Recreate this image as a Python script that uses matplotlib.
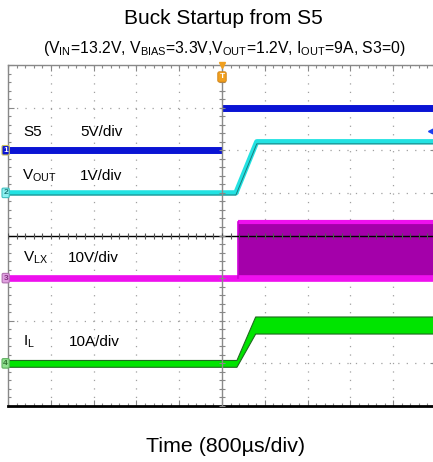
#plot.py
# Buck startup from S5 - scope capture redrawn with matplotlib
import numpy as np
import matplotlib
matplotlib.use('Agg')
import matplotlib.pyplot as plt

plt.rcParams['font.family'] = ['Liberation Sans', 'DejaVu Sans']
plt.rcParams['mathtext.fontset'] = 'custom'
plt.rcParams['mathtext.rm'] = 'Liberation Sans'
plt.rcParams['lines.scale_dashes'] = False

# ---- data (time in us, values in V / A) ----
time_per_div = 800.0
s5_t = [-4000, 0, 0, 4000]
s5_v = [0, 0, 5.0, 5.0]
vout_t = [-4000, 260, 650, 4000]
vout_v = [0, 0, 1.2, 1.2]
vlx_start = 300
vlx_vin = 13.2
il_t = [-4000, 270, 620, 4000]
il_hi = [0.8, 0.8, 11.0, 11.0]
il_lo = [-0.8, -0.8, 7.0, 7.0]
trig_level = 2.3  # S5 trigger level (V)

# volts (amps) per division
scale_s5, scale_vout, scale_vlx, scale_il = 5.0, 1.0, 10.0, 10.0

# ---- channel layout (offset in divisions from screen centre) ----
off_s5, off_vout, off_vlx, off_il = 2.0, 1.0, -1.0, -3.0

def to_div(v, scale, off):
    return np.asarray(v, dtype=float) / scale + off

W, H = 433, 462
fig = plt.figure(figsize=(W / 100, H / 100), dpi=100)
ax = fig.add_axes([8 / W, 56 / H, 428 / W, 341 / H])
ax.set_xlim(-5 * time_per_div, 5 * time_per_div)
ax.set_ylim(-4, 4)

# grid
ax.set_xticks(np.arange(-5, 6) * time_per_div)
ax.set_yticks(np.arange(-4, 5))
ax.set_xticks(np.arange(-25, 26) * time_per_div / 5, minor=True)
ax.set_yticks(np.arange(-20, 21) / 5, minor=True)
ax.set_xticklabels([])
ax.set_yticklabels([])
ax.tick_params(which='both', direction='in', top=True, right=True, color='#888888')
ax.tick_params(which='major', length=4, width=0.8)
ax.tick_params(which='minor', length=2.5, width=0.8)
ax.grid(True, which='major', color='#a0a0a0', lw=0.9, dashes=(0.9, 5.2))
ax.set_axisbelow(True)
for side in ['left', 'top', 'right']:
    ax.spines[side].set_color('#888888')
    ax.spines[side].set_linewidth(1.0)
ax.spines['bottom'].set_color('black')
ax.spines['bottom'].set_linewidth(2.0)

# ---- traces ----
# S5: a step, drawn as its flat runs (the edge is too fast to show)
s5_y = to_div(s5_v, scale_s5, off_s5)
for i in range(len(s5_t) - 1):
    if s5_t[i] != s5_t[i + 1]:
        ax.plot(s5_t[i:i + 2], s5_y[i:i + 2], color='#0a14d4', lw=5.0,
                solid_capstyle='butt', zorder=3)

# VOUT
ax.plot(vout_t, to_div(vout_v, scale_vout, off_vout), color='#22e2e2', lw=3.8,
        solid_capstyle='butt', zorder=3)
ax.plot(vout_t, to_div(vout_v, scale_vout, off_vout) - 0.05, color='#1d7a7a', lw=0.7,
        zorder=3)

# VLX (switch node)
lx_low = to_div(0, scale_vlx, off_vlx)
lx_high = to_div(vlx_vin, scale_vlx, off_vlx)
ax.fill_between([vlx_start, 4000], lx_low, lx_high, color='#a400aa', lw=0, zorder=2)
ax.plot([-4000, 4000], [lx_low, lx_low], color='#ee10ee', lw=4.8,
        solid_capstyle='butt', zorder=3)
ax.plot([vlx_start, 4000], [lx_high, lx_high], color='#ee10ee', lw=3.0,
        solid_capstyle='butt', zorder=3)
ax.plot([vlx_start, vlx_start], [lx_low, lx_high], color='#d000d8', lw=1.2, zorder=3)

# IL
ax.fill_between(il_t, to_div(il_lo, scale_il, off_il), to_div(il_hi, scale_il, off_il),
                color='#00e400', edgecolor='#1f6a1f', lw=0.8, zorder=3)

# centre cross on top of traces
ax.axvline(0, color='#8a8a8a', lw=1.0, zorder=4)
ax.axhline(0, color='black', lw=1.0, zorder=4)
xm = np.arange(-25, 26) * time_per_div / 5
ym = np.arange(-20, 21) / 5
ax.plot(xm, np.zeros_like(xm), ls='none', marker='|', ms=5, mew=0.8, color='#555555', zorder=4)
ax.plot(np.zeros_like(ym), ym, ls='none', marker='_', ms=5, mew=0.8, color='#888888', zorder=4)

# ---- channel labels ----
def fig_text(x, y, s, **kw):
    fig.text(x / W, 1 - y / H, s, va='center', ha='left', fontsize=11, **kw)

fig_text(23, 132, 'S5')
fig_text(80, 132, '5V/div')
fig_text(22, 176, r'V$_{\mathrm{OUT}}$')
fig_text(80, 176, '1V/div')
fig_text(23, 258, r'V$_{\mathrm{LX}}$')
fig_text(68, 258, '10V/div')
fig_text(23, 342, r'I$_{\mathrm{L}}$')
fig_text(69, 342, '10A/div')

# channel ground markers on the left edge
marks = [('1', off_s5, '#0a14d4', '#c8c060', 'white'),
         ('2', off_vout, '#8ef0f0', '#40c0c0', '#1d7a7a'),
         ('3', off_vlx, '#e0a0e0', '#b070b0', '#803080'),
         ('4', off_il, '#90e090', '#60b060', '#307030')]
for num, yy, fc, ec, tc in marks:
    ax.text(-4000, yy, num, fontsize=6, color=tc, ha='right', va='center',
            fontweight='bold', clip_on=False, zorder=6,
            bbox=dict(boxstyle='round,pad=0.15', fc=fc, ec=ec, lw=0.8))

# trigger position marker
ax.plot([0], [4], marker='v', ms=5, color='#f0a020', clip_on=False, zorder=6)
ax.text(0, 3.72, 'T', fontsize=6, color='white', ha='center', va='center',
        fontweight='bold', zorder=6,
        bbox=dict(boxstyle='round,pad=0.2', fc='#f0a020', ec='#d08010', lw=0.6))

# trigger level marker (right edge)
ax.plot([3930], [to_div(trig_level, scale_s5, off_s5)], marker='<', ms=6,
        color='#1a40f0', zorder=6)

# ---- titles ----
fig.text(223 / W, 1 - 18 / H, 'Buck Startup from S5', ha='center', va='center', fontsize=15)
fig.text(224 / W, 1 - 48 / H,
         r'(V$_{\mathrm{IN}}$=13.2V, V$_{\mathrm{BIAS}}$=3.3V,V$_{\mathrm{OUT}}$=1.2V, '
         r'I$_{\mathrm{OUT}}$=9A, S3=0)', ha='center', va='center', fontsize=11.3)
fig.text(226 / W, 1 - 447 / H, 'Time (800µs/div)', ha='center', va='center', fontsize=15.4)

fig.savefig('out.png', dpi=100)
